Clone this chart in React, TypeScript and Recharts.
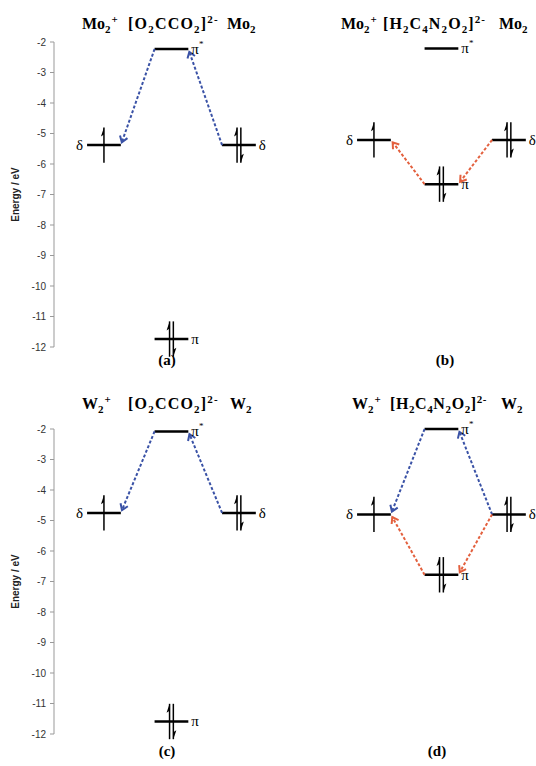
import React from 'react';
import { ComposedChart, Line, XAxis, YAxis, ReferenceLine, ReferenceDot } from 'recharts';

// levels in each panel: M2+ δ (left), bridge π*, M2 δ (right), bridge π
const LEVEL_NAMES = ['δ', 'π*', 'δ', 'π'];
const LEVEL_COLUMNS = [0, 1, 2, 1];
const LEVEL_ELECTRONS = [1, 0, 2, 2];

const ENERGY_A = [-5.38, -2.23, -5.38, -11.74];
const ENERGY_B = [-5.21, -2.21, -5.21, -6.66];
const ENERGY_C = [-4.75, -2.08, -4.75, -11.59];
const ENERGY_D = [-4.8, -2.0, -4.8, -6.78];

// charge transfer arrows: [from level, to level, colour]
const TRANSFERS_A: [number, number, string][] = [[1, 0, 'blue'], [2, 1, 'blue']];
const TRANSFERS_B: [number, number, string][] = [[3, 0, 'red'], [2, 3, 'red']];
const TRANSFERS_C: [number, number, string][] = [[1, 0, 'blue'], [2, 1, 'blue']];
const TRANSFERS_D: [number, number, string][] = [[1, 0, 'blue'], [2, 1, 'blue'], [3, 0, 'red'], [2, 3, 'red']];

const Y_TICKS = [-2, -3, -4, -5, -6, -7, -8, -9, -10, -11, -12];

const SERIF = '"Liberation Serif", "Times New Roman", serif';
const SANS = '"Liberation Sans", Arial, sans-serif';
const ARROW_COLORS: Record<string, string> = { blue: '#3A52A6', red: '#E3603E' };
const HALF = 0.25;
const SPIN_GAP = 0.028;
const SPIN_LEN = 0.58;

function TransferArrow(props: any) {
  const { x1, y1, x2, y2, color } = props;
  const dx = x2 - x1;
  const dy = y2 - y1;
  const len = Math.hypot(dx, dy) || 1;
  const ux = dx / len;
  const uy = dy / len;
  const tx = x2 - ux * 3;
  const ty = y2 - uy * 3;
  const head = (a: number) => {
    const c = Math.cos(a);
    const s = Math.sin(a);
    const bx = -(ux * c - uy * s) * 7;
    const by = -(ux * s + uy * c) * 7;
    return `${tx + bx},${ty + by}`;
  };
  return (
    <g>
      <line x1={x1} y1={y1} x2={tx} y2={ty} stroke={color} strokeWidth={2} strokeDasharray="3 2" />
      <polyline points={`${head(0.6)} ${tx},${ty} ${head(-0.6)}`} fill="none" stroke={color} strokeWidth={2} />
    </g>
  );
}

function Spin(props: any) {
  const { x1, y1, y2, up } = props;
  const top = Math.min(y1, y2);
  const bot = Math.max(y1, y2);
  return (
    <g>
      <line x1={x1} y1={top} x2={x1} y2={bot} stroke="#000" strokeWidth={1.5} />
      {up ? (
        <polygon points={`${x1},${top} ${x1 - 3},${top + 9} ${x1},${top + 7}`} fill="#000" />
      ) : (
        <polygon points={`${x1},${bot} ${x1 + 3},${bot - 9} ${x1},${bot - 7}`} fill="#000" />
      )}
    </g>
  );
}

function LevelName({ cx, cy, name, side }: any) {
  const star = name.endsWith('*');
  return (
    <text
      x={side === 'left' ? cx - 4 : cx + 3}
      y={cy}
      dy="0.33em"
      textAnchor={side === 'left' ? 'end' : 'start'}
      fontFamily={SERIF}
      fontSize={15}
      fill="#000"
    >
      {star ? name.slice(0, -1) : name}
      {star && <tspan dy={-7} fontSize={9}>*</tspan>}
    </text>
  );
}

function Panel({ energies, transfers, showAxis, height, top }: any) {
  const levels = energies.map((e: number, i: number) => ({
    c: LEVEL_COLUMNS[i],
    e,
    name: LEVEL_NAMES[i],
    n: LEVEL_ELECTRONS[i],
  }));
  return (
    <ComposedChart
      width={270}
      height={height}
      margin={{ top, right: 0, bottom: height - top - 305, left: showAxis ? 10 : 54 }}
      style={{ overflow: 'visible' }}
    >
      <XAxis type="number" dataKey="x" domain={[-0.74, 2.46]} hide />
      <YAxis
        type="number"
        domain={[-12, -2]}
        ticks={Y_TICKS}
        hide={!showAxis}
        width={44}
        tickSize={4}
        tickMargin={4}
        interval={0}
        axisLine={{ stroke: '#999' }}
        tickLine={{ stroke: '#999' }}
        tick={{ fill: '#333', fontSize: 10, fontFamily: SANS }}
        label={{
          value: 'Energy / eV',
          angle: -90,
          position: 'insideLeft',
          offset: 5,
          style: { textAnchor: 'middle', fontWeight: 'bold', fontSize: 10, fill: '#222', fontFamily: SANS },
        }}
      />
      {levels.map((l: any, i: number) => (
        <Line
          key={`lv${i}`}
          data={[{ x: l.c - HALF, y: l.e }, { x: l.c + HALF, y: l.e }]}
          dataKey="y"
          stroke="#000"
          strokeWidth={2.5}
          dot={false}
          activeDot={false}
          isAnimationActive={false}
        />
      ))}
      {levels.flatMap((l: any, i: number) => {
        const xs = l.n === 1 ? [l.c] : l.n === 2 ? [l.c - SPIN_GAP, l.c + SPIN_GAP] : [];
        return xs.map((x: number, k: number) => (
          <ReferenceLine
            key={`sp${i}-${k}`}
            ifOverflow="visible"
            segment={[{ x, y: l.e - SPIN_LEN }, { x, y: l.e + SPIN_LEN }]}
            shape={(p: any) => <Spin {...p} up={k === 0} />}
          />
        ));
      })}
      {transfers.map(([from, to, kind]: [number, number, string], i: number) => {
        const cf = levels[from].c;
        const ct = levels[to].c;
        const dir = Math.sign(ct - cf);
        return (
          <ReferenceLine
            key={`tr${i}`}
            ifOverflow="visible"
            segment={[
              { x: cf + dir * HALF, y: levels[from].e },
              { x: ct - dir * HALF, y: levels[to].e },
            ]}
            shape={(p: any) => <TransferArrow {...p} color={ARROW_COLORS[kind]} />}
          />
        );
      })}
      {levels.map((l: any, i: number) => {
        const side = l.c === 0 ? 'left' : 'right';
        return (
          <ReferenceDot
            key={`nm${i}`}
            ifOverflow="visible"
            x={side === 'left' ? l.c - HALF : l.c + HALF}
            y={l.e}
            r={0}
            shape={(p: any) => <LevelName cx={p.cx} cy={p.cy} name={l.name} side={side} />}
          />
        );
      })}
    </ComposedChart>
  );
}

const sub = { fontSize: 11, verticalAlign: 'sub', lineHeight: 0 } as const;
const sup = { fontSize: 11, verticalAlign: 'super', lineHeight: 0 } as const;

function Part({ left, top, spacing = 0, children }: any) {
  return (
    <div
      style={{
        position: 'absolute',
        left,
        top,
        fontFamily: SERIF,
        fontWeight: 'bold',
        fontSize: 16,
        letterSpacing: spacing,
        whiteSpace: 'nowrap',
        lineHeight: '18px',
      }}
    >
      {children}
    </div>
  );
}

const OXALATE = (
  <>
    [O<span style={sub}>2</span>CCO<span style={sub}>2</span>]<span style={sup}>2-</span>
  </>
);
const PYRAZINE = (
  <>
    [H<span style={sub}>2</span>C<span style={sub}>4</span>N<span style={sub}>2</span>O<span style={sub}>2</span>]
    <span style={sup}>2-</span>
  </>
);

function Metal({ sym, plus }: any) {
  return (
    <>
      {sym}
      <span style={sub}>2</span>
      {plus && <span style={{ ...sup, marginLeft: 1 }}>+</span>}
    </>
  );
}

function PanelLabel({ x, y, text }: any) {
  return (
    <div
      style={{
        position: 'absolute',
        left: x - 30,
        top: y,
        width: 60,
        textAlign: 'center',
        fontFamily: SERIF,
        fontWeight: 'bold',
        fontSize: 15,
        lineHeight: '17px',
      }}
    >
      {text}
    </div>
  );
}

export default function App() {
  return (
    <div style={{ position: 'absolute', left: 0, top: 0, width: 536, height: 766, background: '#fff', overflow: 'hidden' }}>
      <div style={{ position: 'absolute', left: 0, top: 0 }}>
        <Panel energies={ENERGY_A} transfers={TRANSFERS_A} showAxis height={380} top={42} />
      </div>
      <div style={{ position: 'absolute', left: 270, top: 0 }}>
        <Panel energies={ENERGY_B} transfers={TRANSFERS_B} showAxis={false} height={380} top={42} />
      </div>
      <div style={{ position: 'absolute', left: 0, top: 380 }}>
        <Panel energies={ENERGY_C} transfers={TRANSFERS_C} showAxis height={386} top={49} />
      </div>
      <div style={{ position: 'absolute', left: 270, top: 380 }}>
        <Panel energies={ENERGY_D} transfers={TRANSFERS_D} showAxis={false} height={386} top={49} />
      </div>

      <Part left={82} top={15}><Metal sym="Mo" plus /></Part>
      <Part left={128} top={15} spacing={1.2}>{OXALATE}</Part>
      <Part left={227} top={15}><Metal sym="Mo" /></Part>

      <Part left={341} top={15}><Metal sym="Mo" plus /></Part>
      <Part left={383} top={15} spacing={1.1}>{PYRAZINE}</Part>
      <Part left={499} top={15}><Metal sym="Mo" /></Part>

      <Part left={82} top={395}><Metal sym="W" plus /></Part>
      <Part left={128} top={395} spacing={1.2}>{OXALATE}</Part>
      <Part left={230} top={395}><Metal sym="W" /></Part>

      <Part left={352} top={395}><Metal sym="W" plus /></Part>
      <Part left={390} top={395} spacing={0.6}>{PYRAZINE}</Part>
      <Part left={501} top={395}><Metal sym="W" /></Part>

      <PanelLabel x={167} y={352} text="(a)" />
      <PanelLabel x={445} y={352} text="(b)" />
      <PanelLabel x={167} y={743} text="(c)" />
      <PanelLabel x={437} y={743} text="(d)" />
    </div>
  );
}
